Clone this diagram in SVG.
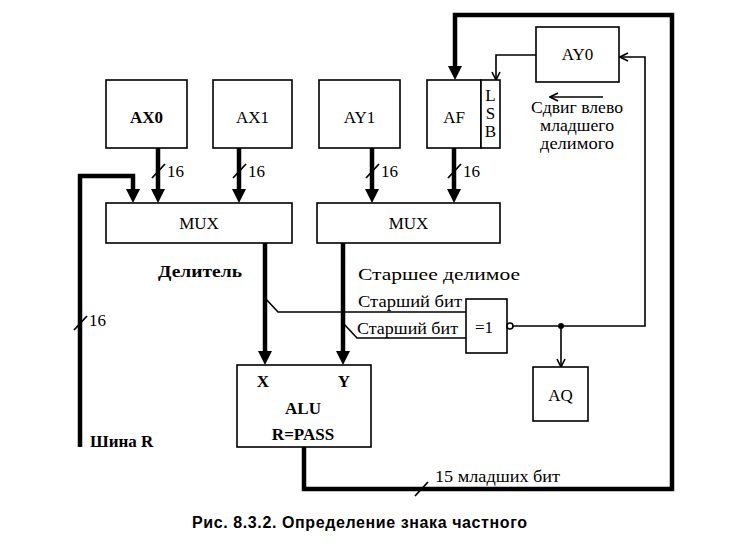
<svg xmlns="http://www.w3.org/2000/svg" width="740" height="551" viewBox="0 0 740 551">
<style>
.box{fill:#fff;stroke:#000;stroke-width:1.6}
.t{font-family:"Liberation Serif","Times New Roman","DejaVu Serif",serif;font-size:17px;fill:#000}
.b{font-weight:bold}
.thick{fill:none;stroke:#000;stroke-width:4.5}
.thin{fill:none;stroke:#000;stroke-width:1.6}
.sl{stroke:#000;stroke-width:1.8}
</style>
<defs>
<marker id="ah" viewBox="0 0 14 15" markerWidth="14" markerHeight="15" refX="6" refY="7.5" orient="auto" markerUnits="userSpaceOnUse">
<path d="M0,0.5 L14,7.5 L0,14.5 z" fill="#000"/>
</marker>
<marker id="oh" viewBox="0 0 10 10" markerWidth="10" markerHeight="10" refX="9" refY="5" orient="auto" markerUnits="userSpaceOnUse">
<path d="M1,1 L9,5 L1,9" fill="none" stroke="#000" stroke-width="1.6"/>
</marker>
</defs>
<rect width="740" height="551" fill="#fff"/>

<g id="connectors">
<path class="thick" d="M158,148 V195" marker-end="url(#ah)"/>
<path class="thick" d="M239,148 V195" marker-end="url(#ah)"/>
<path class="thick" d="M372,148 V195" marker-end="url(#ah)"/>
<path class="thick" d="M454,148 V195" marker-end="url(#ah)"/>
<path class="thick" d="M80,447 V176 H133 V195" marker-end="url(#ah)"/>
<path class="thick" d="M265,243 V357" marker-end="url(#ah)"/>
<path class="thick" d="M343,243 V357" marker-end="url(#ah)"/>
<path class="thick" d="M304,447 V489 H672 V15 H455 V72" marker-end="url(#ah)"/>
<path class="thin" d="M536,55 H496 V80" marker-end="url(#oh)"/>
<path class="thin" d="M513,326 H645 V57 H620" marker-end="url(#oh)"/>
<path class="thin" d="M561,326 V367" marker-end="url(#oh)"/>
<path class="thin" d="M265,298 L278,312 H466"/>
<path class="thin" d="M343,323 L357,338 H466"/>
<path class="thin" d="M603,97 H550" marker-end="url(#oh)"/>
<circle cx="561" cy="326" r="3" fill="#000"/>
<line class="sl" x1="152" y1="178" x2="165" y2="164"/>
<line class="sl" x1="233" y1="178" x2="246" y2="164"/>
<line class="sl" x1="366" y1="178" x2="379" y2="164"/>
<line class="sl" x1="448" y1="178" x2="461" y2="164"/>
<line class="sl" x1="74" y1="330" x2="87" y2="316"/>
<line class="sl" x1="415" y1="496" x2="428" y2="482"/>
<text class="t" x="167" y="177">16</text>
<text class="t" x="248" y="177">16</text>
<text class="t" x="381" y="177">16</text>
<text class="t" x="463" y="177">16</text>
<text class="t" x="89" y="326">16</text>
<text class="t" x="435" y="482" textLength="125" lengthAdjust="spacingAndGlyphs">15 младших бит</text>
<text class="t" x="358" y="307" font-size="16" textLength="104" lengthAdjust="spacingAndGlyphs">Старший бит</text>
<text class="t" x="357" y="334" font-size="16" textLength="101" lengthAdjust="spacingAndGlyphs">Старший бит</text>
</g>

<g id="AX0"><rect class="box" x="106" y="80" width="81" height="68"/><text class="t b" x="146.5" y="123" text-anchor="middle">AX0</text></g>
<g id="AX1"><rect class="box" x="213" y="80" width="79" height="68"/><text class="t" x="252.5" y="123" text-anchor="middle">AX1</text></g>
<g id="AY1"><rect class="box" x="319" y="80" width="81" height="68"/><text class="t" x="359.5" y="123" text-anchor="middle">AY1</text></g>
<g id="AF"><rect class="box" x="427" y="80" width="54" height="68"/><text class="t" x="454" y="123" text-anchor="middle">AF</text></g>
<g id="LSB"><rect class="box" x="481" y="80" width="19" height="68"/>
<text class="t" x="490.5" y="101" font-size="16" text-anchor="middle">L</text>
<text class="t" x="490.5" y="119" font-size="16" text-anchor="middle">S</text>
<text class="t" x="490.5" y="137" font-size="16" text-anchor="middle">B</text></g>
<g id="AY0"><rect class="box" x="536" y="27" width="83" height="55"/><text class="t" x="577.5" y="60" text-anchor="middle">AY0</text></g>
<g id="shift-note">
<text class="t" x="577" y="113" font-size="15" text-anchor="middle" textLength="92" lengthAdjust="spacingAndGlyphs">Сдвиг влево</text>
<text class="t" x="577" y="131" font-size="15" text-anchor="middle" textLength="74" lengthAdjust="spacingAndGlyphs">младшего</text>
<text class="t" x="577" y="149" font-size="15" text-anchor="middle" textLength="74" lengthAdjust="spacingAndGlyphs">делимого</text>
</g>
<g id="MUX1"><rect class="box" x="106" y="203" width="186" height="40"/><text class="t" x="199" y="229" text-anchor="middle">MUX</text></g>
<g id="MUX2"><rect class="box" x="317" y="203" width="183" height="40"/><text class="t" x="408.5" y="229" text-anchor="middle">MUX</text></g>
<g id="labels">
<text class="t b" x="158" y="277" font-size="18" textLength="84" lengthAdjust="spacingAndGlyphs">Делитель</text>
<text class="t" x="358" y="280" font-size="20" textLength="162" lengthAdjust="spacingAndGlyphs">Старшее делимое</text>
</g>
<g id="XOR"><rect class="box" x="466" y="299" width="41" height="54"/><text class="t" x="484" y="333" text-anchor="middle">=1</text>
<circle cx="510" cy="326" r="3" fill="#fff" stroke="#000" stroke-width="1.6"/></g>
<g id="AQ"><rect class="box" x="533" y="367" width="55" height="54"/><text class="t" x="560.5" y="401" text-anchor="middle">AQ</text></g>
<g id="ALU"><rect class="box" x="237" y="365" width="134" height="82"/>
<text class="t b" x="263" y="387" text-anchor="middle">X</text>
<text class="t b" x="344" y="387" text-anchor="middle">Y</text>
<text class="t b" x="303" y="414" text-anchor="middle">ALU</text>
<text class="t b" x="303" y="440" text-anchor="middle">R=PASS</text></g>
<g id="busR"><text class="t b" x="90" y="447">Шина R</text></g>
<g id="caption"><text x="192" y="528" font-family="'Liberation Sans',Arial,sans-serif" font-size="16" font-weight="bold" textLength="335">Рис. 8.3.2. Определение знака частного</text></g>
</svg>
